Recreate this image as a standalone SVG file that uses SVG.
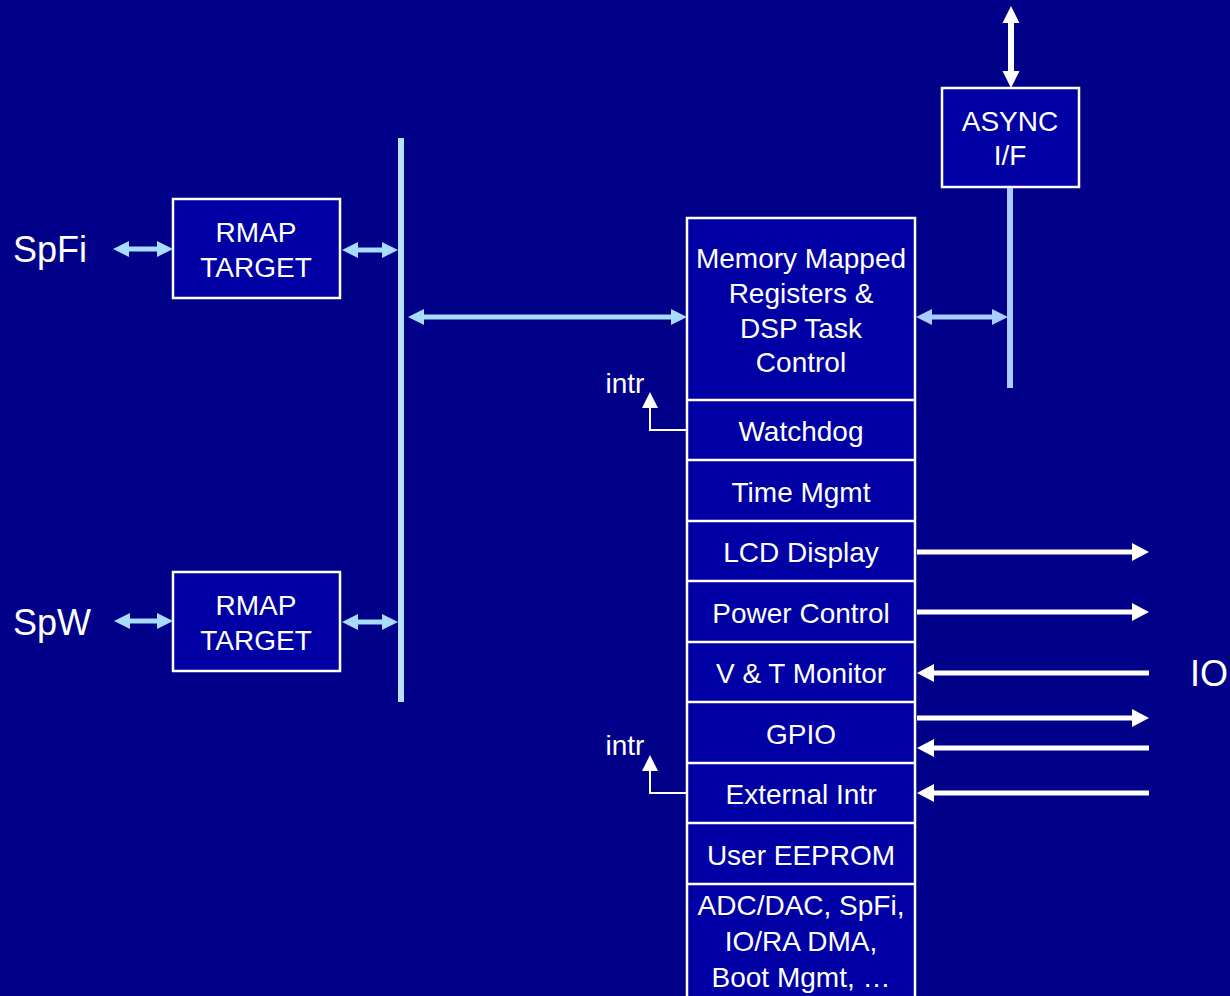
<svg xmlns="http://www.w3.org/2000/svg" width="1230" height="996" viewBox="0 0 1230 996">
<style>
.box{fill:#0000A4;stroke:#FFFFFF;stroke-width:2.5}
.sep{stroke:#FFFFFF;stroke-width:2.5}
.t{font-family:"Liberation Sans",Arial,sans-serif;font-size:28px;fill:#FFFFFF;text-anchor:middle}
.big{font-family:"Liberation Sans",Arial,sans-serif;font-size:36px;fill:#FFFFFF}
.lb{fill:#A8DCFF}
.lb2{fill:#AACCFF}
.w{fill:#FFFFFF}
.thin{fill:none;stroke:#FFFFFF;stroke-width:2}
</style>
<rect x="0" y="0" width="1230" height="996" fill="#000088"/>

<g id="labels">
<text class="big" x="13" y="262">SpFi</text>
<text class="big" x="13" y="635">SpW</text>
<text class="big" x="1190" y="686">IO</text>
</g>

<g id="rmap1">
<rect class="box" x="173" y="199" width="167" height="99"/>
<text class="t" x="256" y="242">RMAP</text>
<text class="t" x="256" y="277">TARGET</text>
</g>
<g id="rmap2">
<rect class="box" x="173" y="572" width="167" height="99"/>
<text class="t" x="256" y="615">RMAP</text>
<text class="t" x="256" y="650">TARGET</text>
</g>

<g id="async">
<rect class="box" x="942" y="88" width="137" height="99"/>
<text class="t" x="1010" y="131">ASYNC</text>
<text class="t" x="1010" y="165">I/F</text>
</g>

<g id="column">
<rect class="box" x="687" y="218" width="228" height="790"/>
<line class="sep" x1="687" y1="400" x2="915" y2="400"/>
<line class="sep" x1="687" y1="460" x2="915" y2="460"/>
<line class="sep" x1="687" y1="521" x2="915" y2="521"/>
<line class="sep" x1="687" y1="581" x2="915" y2="581"/>
<line class="sep" x1="687" y1="642" x2="915" y2="642"/>
<line class="sep" x1="687" y1="702" x2="915" y2="702"/>
<line class="sep" x1="687" y1="763" x2="915" y2="763"/>
<line class="sep" x1="687" y1="823" x2="915" y2="823"/>
<line class="sep" x1="687" y1="884" x2="915" y2="884"/>
</g>
<g id="mmr"><text class="t" x="801" y="268">Memory Mapped</text><text class="t" x="801" y="303">Registers &amp;</text><text class="t" x="801" y="338">DSP Task</text><text class="t" x="801" y="372">Control</text></g>
<g id="watchdog"><text class="t" x="801" y="441">Watchdog</text></g>
<g id="time"><text class="t" x="801" y="502">Time Mgmt</text></g>
<g id="lcd"><text class="t" x="801" y="562">LCD Display</text></g>
<g id="power"><text class="t" x="801" y="623">Power Control</text></g>
<g id="vt"><text class="t" x="801" y="683">V &amp; T Monitor</text></g>
<g id="gpio"><text class="t" x="801" y="744">GPIO</text></g>
<g id="extintr"><text class="t" x="801" y="804">External Intr</text></g>
<g id="eeprom"><text class="t" x="801" y="865">User EEPROM</text></g>
<g id="misc"><text class="t" x="801" y="915">ADC/DAC, SpFi,</text><text class="t" x="801" y="951">IO/RA DMA,</text><text class="t" x="801" y="987">Boot Mgmt, …</text></g>

<g id="intr-labels">
<text class="t" x="625" y="393">intr</text>
<text class="t" x="625" y="755">intr</text>
</g>

<g id="connectors">
<!-- bus -->
<rect x="398" y="138" width="6" height="564" fill="#B3E2FF"/>
<!-- async line -->
<rect x="1007" y="188" width="6" height="200" class="lb2"/>
<!-- SpFi double arrows -->
<polygon class="lb" points="113,249 129,241 129,246.5 157,246.5 157,241 173,249 157,257 157,251.5 129,251.5 129,257"/>
<polygon class="lb" points="342,250 358,242 358,247.5 382,247.5 382,242 398,250 382,258 382,252.5 358,252.5 358,258"/>
<!-- SpW double arrows -->
<polygon class="lb" points="114,621 130,613 130,618.5 157,618.5 157,613 173,621 157,629 157,623.5 130,623.5 130,629"/>
<polygon class="lb" points="342,622 358,614 358,619.5 382,619.5 382,614 398,622 382,630 382,624.5 358,624.5 358,630"/>
<!-- bus to MMR -->
<polygon class="lb" points="408,317 424,309 424,314.5 671,314.5 671,309 687,317 671,325 671,319.5 424,319.5 424,325"/>
<!-- MMR to async bus -->
<polygon class="lb2" points="916,317 932,309 932,314.5 992,314.5 992,309 1008,317 992,325 992,319.5 932,319.5 932,325"/>
<!-- async up arrow -->
<polygon class="w" points="1011,6 1019.5,23 1014,23 1014,71 1019.5,71 1011,88 1002.5,71 1008,71 1008,23 1002.5,23"/>
<!-- IO arrows -->
<polygon class="w" points="917,549.5 1132,549.5 1132,543 1149,552 1132,561 1132,554.5 917,554.5"/>
<polygon class="w" points="917,609.5 1132,609.5 1132,603 1149,612 1132,621 1132,614.5 917,614.5"/>
<polygon class="w" points="1149,670.5 934,670.5 934,664 917,673 934,682 934,675.5 1149,675.5"/>
<polygon class="w" points="917,715.5 1132,715.5 1132,709 1149,718 1132,727 1132,720.5 917,720.5"/>
<polygon class="w" points="1149,745.5 934,745.5 934,739 917,748 934,757 934,750.5 1149,750.5"/>
<polygon class="w" points="1149,790.5 934,790.5 934,784 917,793 934,802 934,795.5 1149,795.5"/>
<!-- intr arrows -->
<polyline class="thin" points="687,430 650,430 650,406"/>
<polygon class="w" points="650,392 658,408 642,408"/>
<polyline class="thin" points="687,793 650,793 650,770"/>
<polygon class="w" points="650,755 658,771 642,771"/>
</g>
</svg>
